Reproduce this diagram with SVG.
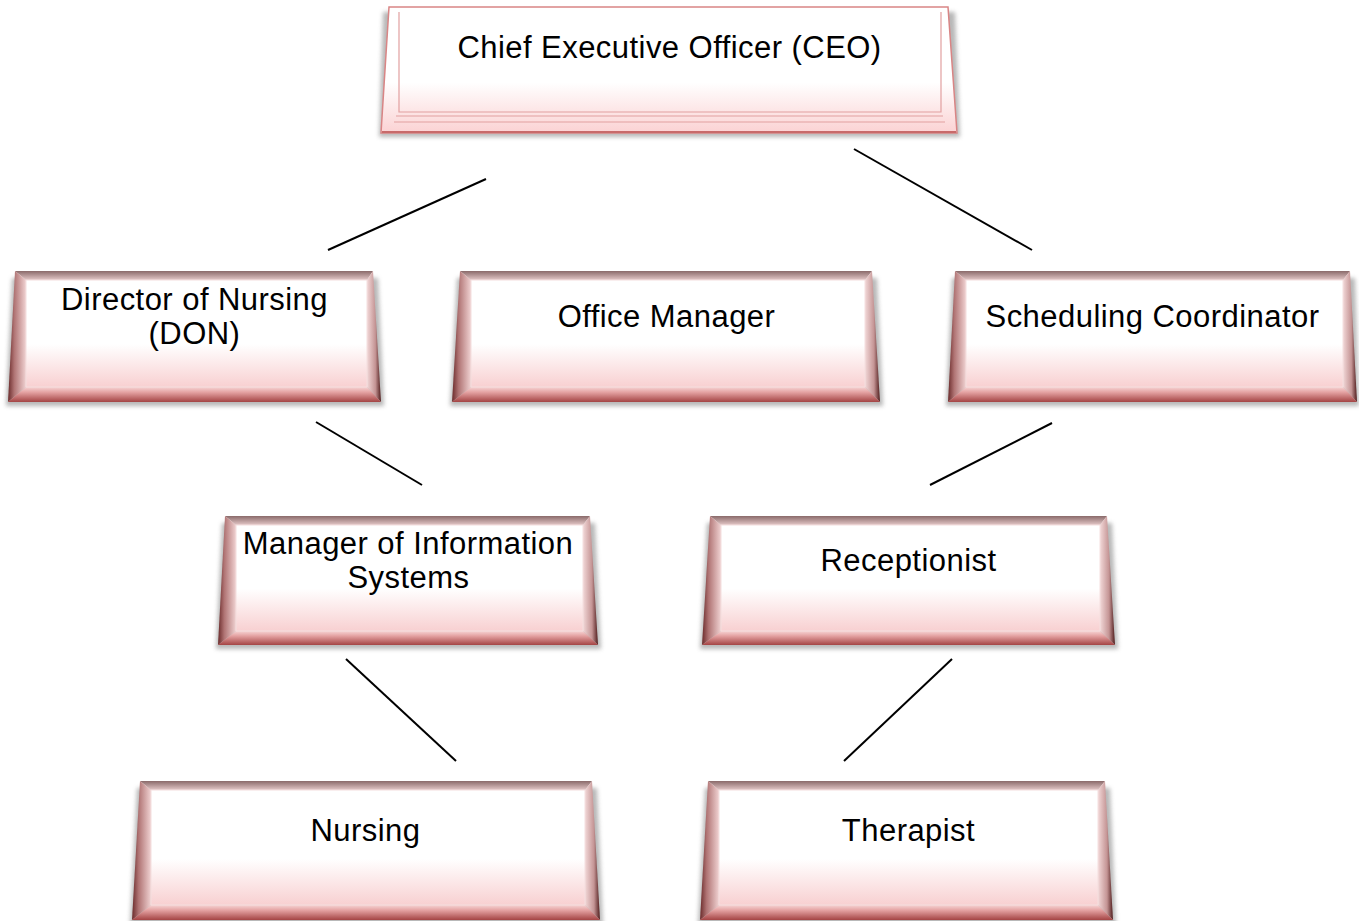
<svg xmlns="http://www.w3.org/2000/svg" width="1359" height="921" viewBox="0 0 1359 921">
  <defs>
    <linearGradient id="face" x1="0" y1="0" x2="0" y2="1">
      <stop offset="0" stop-color="#ffffff"/>
      <stop offset="0.6" stop-color="#ffffff"/>
      <stop offset="1" stop-color="#f8d0d1"/>
    </linearGradient>
    <linearGradient id="ceoFace" x1="0" y1="0" x2="0" y2="1">
      <stop offset="0" stop-color="#ffffff"/>
      <stop offset="0.6" stop-color="#ffffff"/>
      <stop offset="1" stop-color="#fbd2d3"/>
    </linearGradient>
    <linearGradient id="bevTop" x1="0" y1="0" x2="0" y2="1">
      <stop offset="0" stop-color="#8a6a6a"/>
      <stop offset="1" stop-color="#e4c8c8"/>
    </linearGradient>
    <linearGradient id="bevLeft" x1="0" y1="0" x2="1" y2="0">
      <stop offset="0" stop-color="#6a2a2a"/>
      <stop offset="0.35" stop-color="#b07474"/>
      <stop offset="1" stop-color="#f0d2d2"/>
    </linearGradient>
    <linearGradient id="bevRight" x1="0" y1="0" x2="1" y2="0">
      <stop offset="0" stop-color="#f2d8d8"/>
      <stop offset="0.6" stop-color="#c49494"/>
      <stop offset="1" stop-color="#4e1a1a"/>
    </linearGradient>
    <linearGradient id="bevBottom" x1="0" y1="0" x2="0" y2="1">
      <stop offset="0" stop-color="#f6d4d4"/>
      <stop offset="0.35" stop-color="#e4a2a2"/>
      <stop offset="1" stop-color="#a44444"/>
    </linearGradient>
    <filter id="soft" x="-5%" y="-20%" width="110%" height="140%">
      <feGaussianBlur stdDeviation="2"/>
    </filter>
  </defs>
  <style>
    .lbl { font-family: "Liberation Sans", Arial, sans-serif; font-size: 31px; letter-spacing: 0.45px; fill: #000000; text-anchor: middle; }
    .shadow { fill: #9a9a9a; opacity: 0.7; filter: url(#soft); }
    .face { fill: url(#face); }
    .bt { fill: url(#bevTop); }
    .bl { fill: url(#bevLeft); }
    .br { fill: url(#bevRight); }
    .bb { fill: url(#bevBottom); }
    .rim { fill: none; stroke: #f4dede; stroke-width: 1; }
    .conn line { stroke: #000000; stroke-width: 2; stroke-linecap: butt; }
    .ceoLine { fill: none; stroke: #e2a0a0; stroke-width: 1.2; }
  </style>

  <rect width="1359" height="921" fill="#ffffff"/>

  <!-- reporting lines -->
  <g id="connectors" class="conn">
    <line x1="486" y1="179" x2="328" y2="250"/>
    <line x1="854" y1="149" x2="1032" y2="250"/>
    <line x1="316" y1="422" x2="422" y2="485"/>
    <line x1="1052" y1="423" x2="930" y2="485"/>
    <line x1="346" y1="659" x2="456" y2="761"/>
    <line x1="952" y1="659" x2="844" y2="761"/>
  </g>

  <!-- top box: flat plate with thin inner frame -->
  <g id="ceo">
    <polygon class="shadow" points="383,12 955,12 960,137 379,137"/>
    <polygon points="389,7 948,7 957,133 381,133" fill="url(#ceoFace)" stroke="#d98585" stroke-width="1.5"/>
    <polyline class="ceoLine" points="399,12 399,112 941,112 941,12"/>
    <line class="ceoLine" x1="396" y1="116" x2="943" y2="116"/>
    <line class="ceoLine" x1="394" y1="122" x2="945" y2="122"/>
    <line x1="382" y1="132" x2="956" y2="132" stroke="#c86a6a" stroke-width="2"/>
    <text class="lbl" x="669.5" y="58">Chief Executive Officer (CEO)</text>
  </g>

  <g id="don">
    <polygon class="shadow" points="12,278 378,278 384,406 6,406"/>
    <polygon class="bt" points="15,271 373,271 367,280 26,280"/>
    <polygon class="bl" points="15,271 26,280 26,387 8,402"/>
    <polygon class="br" points="373,271 381,402 367,387 367,280"/>
    <polygon class="bb" points="8,402 381,402 367,387 26,387"/>
    <rect class="face" x="26" y="280" width="341" height="107"/>
    <rect class="rim" x="26" y="280" width="341" height="107"/>
    <text class="lbl" x="194.5" y="310">Director of Nursing</text>
    <text class="lbl" x="194.5" y="344">(DON)</text>
  </g>

  <g id="office-manager">
    <polygon class="shadow" points="457,278 877,278 883,406 450,406"/>
    <polygon class="bt" points="460,271 872,271 865,280 471,280"/>
    <polygon class="bl" points="460,271 471,280 471,387 452,402"/>
    <polygon class="br" points="872,271 880,402 865,387 865,280"/>
    <polygon class="bb" points="452,402 880,402 865,387 471,387"/>
    <rect class="face" x="471" y="280" width="394" height="107"/>
    <rect class="rim" x="471" y="280" width="394" height="107"/>
    <text class="lbl" x="666.5" y="327">Office Manager</text>
  </g>

  <g id="scheduling-coordinator">
    <polygon class="shadow" points="952,278 1355,278 1359,406 946,406"/>
    <polygon class="bt" points="955,271 1350,271 1343,280 966,280"/>
    <polygon class="bl" points="955,271 966,280 966,387 948,402"/>
    <polygon class="br" points="1350,271 1357,402 1343,387 1343,280"/>
    <polygon class="bb" points="948,402 1357,402 1343,387 966,387"/>
    <rect class="face" x="966" y="280" width="377" height="107"/>
    <rect class="rim" x="966" y="280" width="377" height="107"/>
    <text class="lbl" x="1152.5" y="327">Scheduling Coordinator</text>
  </g>

  <g id="manager-information-systems">
    <polygon class="shadow" points="222,523 595,523 601,649 216,649"/>
    <polygon class="bt" points="225,516 590,516 583,525 236,525"/>
    <polygon class="bl" points="225,516 236,525 236,631 218,645"/>
    <polygon class="br" points="590,516 598,645 583,631 583,525"/>
    <polygon class="bb" points="218,645 598,645 583,631 236,631"/>
    <rect class="face" x="236" y="525" width="347" height="106"/>
    <rect class="rim" x="236" y="525" width="347" height="106"/>
    <text class="lbl" x="408" y="554">Manager of Information</text>
    <text class="lbl" x="408.5" y="588">Systems</text>
  </g>

  <g id="receptionist">
    <polygon class="shadow" points="707,523 1112,523 1118,649 700,649"/>
    <polygon class="bt" points="710,516 1107,516 1100,525 721,525"/>
    <polygon class="bl" points="710,516 721,525 721,631 702,645"/>
    <polygon class="br" points="1107,516 1115,645 1100,631 1100,525"/>
    <polygon class="bb" points="702,645 1115,645 1100,631 721,631"/>
    <rect class="face" x="721" y="525" width="379" height="106"/>
    <rect class="rim" x="721" y="525" width="379" height="106"/>
    <text class="lbl" x="908.5" y="571">Receptionist</text>
  </g>

  <g id="nursing">
    <polygon class="shadow" points="137,788 597,788 603,925 130,925"/>
    <polygon class="bt" points="140,781 592,781 585,790 151,790"/>
    <polygon class="bl" points="140,781 151,790 151,905 132,920"/>
    <polygon class="br" points="592,781 600,920 585,905 585,790"/>
    <polygon class="bb" points="132,920 600,920 585,905 151,905"/>
    <rect class="face" x="151" y="790" width="434" height="115"/>
    <rect class="rim" x="151" y="790" width="434" height="115"/>
    <text class="lbl" x="365.5" y="841">Nursing</text>
  </g>

  <g id="therapist">
    <polygon class="shadow" points="705,788 1110,788 1116,925 698,925"/>
    <polygon class="bt" points="708,781 1105,781 1098,790 719,790"/>
    <polygon class="bl" points="708,781 719,790 719,905 700,920"/>
    <polygon class="br" points="1105,781 1113,920 1098,905 1098,790"/>
    <polygon class="bb" points="700,920 1113,920 1098,905 719,905"/>
    <rect class="face" x="719" y="790" width="379" height="115"/>
    <rect class="rim" x="719" y="790" width="379" height="115"/>
    <text class="lbl" x="908.5" y="841">Therapist</text>
  </g>
</svg>
